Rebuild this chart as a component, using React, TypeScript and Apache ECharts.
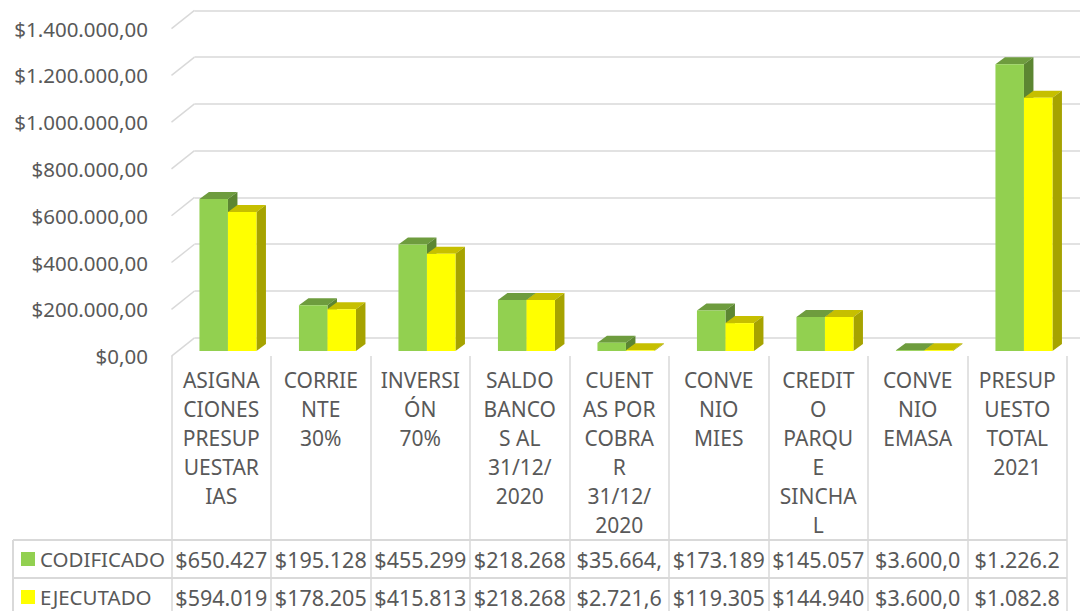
import React, { useEffect, useRef } from "react";
import * as echarts from "echarts";

const CATEGORIES = [
  "ASIGNA\nCIONES\nPRESUP\nUESTAR\nIAS",
  "CORRIE\nNTE\n30%",
  "INVERSI\nÓN\n70%",
  "SALDO\nBANCO\nS AL\n31/12/\n2020",
  "CUENT\nAS POR\nCOBRA\nR\n31/12/\n2020",
  "CONVE\nNIO\nMIES",
  "CREDIT\nO\nPARQU\nE\nSINCHA\nL",
  "CONVE\nNIO\nEMASA",
  "PRESUP\nUESTO\nTOTAL\n2021",
];
const SERIES_NAMES = ["CODIFICADO", "EJECUTADO"];
const CODIFICADO = [650427, 195128, 455299, 218268, 35664, 173189, 145057, 3600, 1226205];
const EJECUTADO = [594019, 178205, 415813, 218268, 2721.6, 119305, 144940, 3600, 1082853.6];
const Y_TICKS = [0, 200000, 400000, 600000, 800000, 1000000, 1200000, 1400000];

const TEXT = "#595959";
const LINE = "#d9d9d9";
const FONT = "Noto Sans";
const GREEN = { front: "#92D050", top: "#6E9C3E", side: "#5C8632" };
const YELLOW = { front: "#FFFF00", top: "#C6BF00", side: "#A6A300" };

const BAR_W = 28.5;
const DX = 9.5;
const DY = 7;

function fmtMoney(v: number): string {
  const [i, d] = v.toFixed(2).split(".");
  return "$" + i.replace(/\B(?=(\d{3})+(?!\d))/g, ".") + "," + d;
}

function barRenderer(side: number, c: { front: string; top: string; side: string }) {
  return (_p: any, api: any) => {
    const cat = api.value(0);
    const v = api.value(1);
    const top = api.coord([cat, v]);
    const base = api.coord([cat, 0]);
    const x0 = side === 0 ? top[0] - BAR_W : top[0];
    const x1 = x0 + BAR_W;
    const yT = top[1];
    const yB = base[1];
    return {
      type: "group",
      children: [
        {
          type: "polygon",
          shape: { points: [[x0, yT], [x1, yT], [x1 + DX, yT - DY], [x0 + DX, yT - DY]] },
          style: { fill: c.top },
        },
        {
          type: "polygon",
          shape: { points: [[x1, yT], [x1 + DX, yT - DY], [x1 + DX, yB - DY], [x1, yB]] },
          style: { fill: c.side },
        },
        {
          type: "rect",
          shape: { x: x0, y: yT, width: BAR_W, height: Math.max(yB - yT, 0) },
          style: { fill: c.front },
        },
      ],
    };
  };
}

export default function App() {
  const ref = useRef<HTMLDivElement>(null);
  useEffect(() => {
    if (!ref.current) return;
    const chart = echarts.init(ref.current, undefined, { renderer: "svg" });
    const gridBase = { outerBoundsMode: "none", containLabel: false } as any;
    const option: any = {
      animation: false,
      textStyle: { fontFamily: FONT },
      grid: [
        // back wall
        { ...gridBase, left: 194.5, top: 10.3, width: 900, height: 327.5 },
        // bars
        { ...gridBase, left: 178.2, top: 23.6, width: 895.5, height: 327.4 },
        // front plane (labels, table)
        { ...gridBase, left: 171.5, top: 28.6, width: 895.5, height: 327.5 },
      ],
      xAxis: [
        { gridIndex: 0, type: "value", min: 0, max: 1, show: false },
        { gridIndex: 1, type: "category", data: CATEGORIES, show: false },
        {
          gridIndex: 2,
          type: "category",
          data: CATEGORIES,
          position: "bottom",
          axisLine: { show: false },
          axisTick: { show: true, length: 262, lineStyle: { color: LINE, width: 1.5 } },
          axisLabel: {
            interval: 0,
            margin: 9.5,
            fontSize: 21,
            lineHeight: 29,
            color: TEXT,
            fontFamily: FONT,
          },
        },
        {
          gridIndex: 2,
          type: "category",
          data: CATEGORIES,
          position: "bottom",
          offset: 203,
          axisLine: { show: false },
          axisTick: { show: false },
          axisLabel: {
            interval: 0,
            margin: 0,
            verticalAlign: "middle",
            fontSize: 21.5,
            color: TEXT,
            fontFamily: FONT,
            formatter: (_v: string, i: number) => fmtMoney(CODIFICADO[i]).slice(0, 8),
          },
        },
        {
          gridIndex: 2,
          type: "category",
          data: CATEGORIES,
          position: "bottom",
          offset: 241,
          axisLine: { show: false },
          axisTick: { show: false },
          axisLabel: {
            interval: 0,
            margin: 0,
            verticalAlign: "middle",
            fontSize: 21.5,
            color: TEXT,
            fontFamily: FONT,
            formatter: (_v: string, i: number) => fmtMoney(EJECUTADO[i]).slice(0, 8),
          },
        },
      ],
      yAxis: [
        {
          gridIndex: 0,
          type: "value",
          min: 0,
          max: 1400000,
          interval: 200000,
          axisLine: { show: false },
          axisTick: { show: false },
          axisLabel: { show: false },
          splitLine: { show: true, lineStyle: { color: LINE, width: 1.5 } },
        },
        { gridIndex: 1, type: "value", min: 0, max: 1400000, interval: 200000, show: false },
        {
          gridIndex: 2,
          type: "value",
          min: 0,
          max: 1400000,
          interval: 200000,
          axisLine: { show: false },
          axisTick: { show: false },
          splitLine: { show: false },
          axisLabel: {
            margin: 23.5,
            fontSize: 20.5,
            color: TEXT,
            fontFamily: FONT,
            formatter: (v: number) => fmtMoney(v),
          },
        },
      ],
      legend: {
        orient: "vertical",
        left: 21,
        top: 547,
        padding: 0,
        itemWidth: 14,
        itemHeight: 14,
        itemGap: 14,
        icon: "rect",
        selectedMode: false,
        textStyle: { fontSize: 20.5, lineHeight: 24, color: TEXT, fontFamily: FONT },
        data: [
          { name: SERIES_NAMES[0], itemStyle: { color: GREEN.front } },
          { name: SERIES_NAMES[1], itemStyle: { color: YELLOW.front } },
        ],
      },
      graphic: [
        { type: "line", shape: { x1: 13, y1: 540, x2: 1067, y2: 540 }, style: { stroke: LINE, lineWidth: 2 } },
        { type: "line", shape: { x1: 13, y1: 578, x2: 1067, y2: 578 }, style: { stroke: LINE, lineWidth: 2 } },
        { type: "line", shape: { x1: 13, y1: 540, x2: 13, y2: 620 }, style: { stroke: LINE, lineWidth: 2 } },
      ],
      series: [
        {
          type: "custom",
          name: "wall",
          xAxisIndex: 0,
          yAxisIndex: 0,
          silent: true,
          data: Y_TICKS.map((v) => [0, v]),
          renderItem: (_p: any, api: any) => {
            const pt = api.coord([0, api.value(1)]);
            return {
              type: "line",
              shape: { x1: pt[0], y1: pt[1], x2: pt[0] - 23, y2: pt[1] + 18.3 },
              style: { stroke: LINE, lineWidth: 1.5 },
            };
          },
        },
        {
          type: "custom",
          name: SERIES_NAMES[0],
          xAxisIndex: 1,
          yAxisIndex: 1,
          itemStyle: { color: GREEN.front },
          data: CODIFICADO.map((v, i) => [i, v]),
          renderItem: barRenderer(0, GREEN),
        },
        {
          type: "custom",
          name: SERIES_NAMES[1],
          xAxisIndex: 1,
          yAxisIndex: 1,
          itemStyle: { color: YELLOW.front },
          data: EJECUTADO.map((v, i) => [i, v]),
          renderItem: barRenderer(1, YELLOW),
        },
      ],
    };
    chart.setOption(option);
    return () => chart.dispose();
  }, []);
  return (
    <div
      ref={ref}
      style={{ position: "fixed", left: 0, top: 0, width: 1080, height: 611, background: "#ffffff" }}
    />
  );
}
